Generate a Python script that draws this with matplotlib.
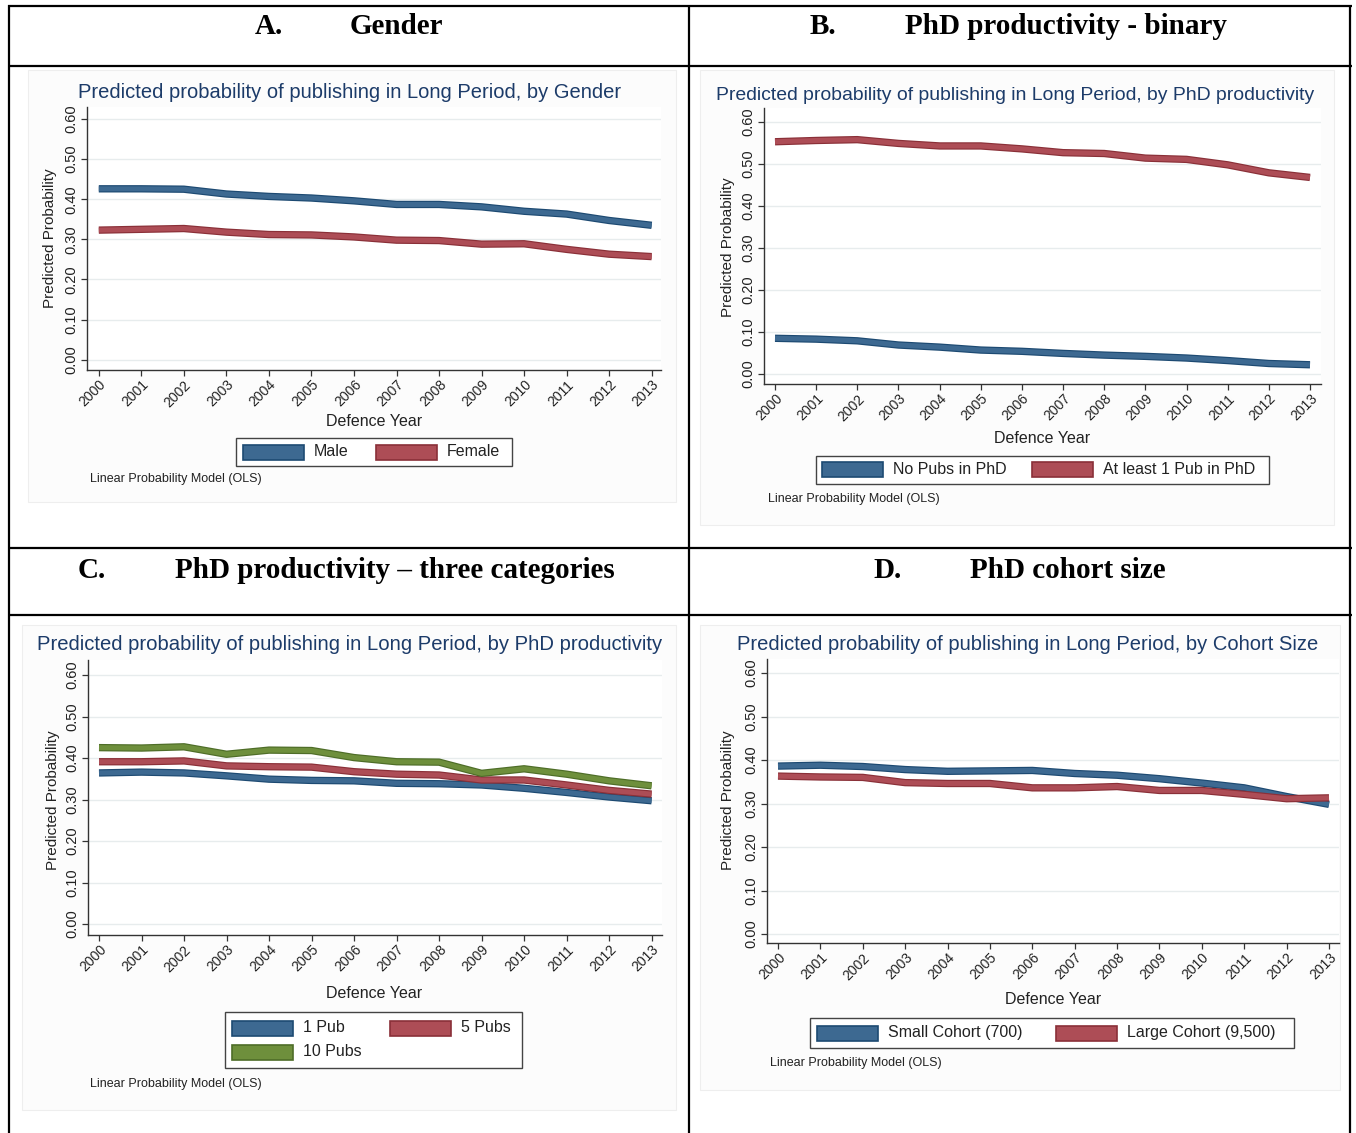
import matplotlib
matplotlib.use("Agg")
import matplotlib.pyplot as plt
import matplotlib.patheffects as pe
from matplotlib.patches import Rectangle
from matplotlib.lines import Line2D

W, H, DPI = 1356, 1133, 100

# ---- data -------------------------------------------------------------
years = list(range(2000, 2014))
year_labels = [str(y) for y in years]
ytick_vals = [0.0, 0.1, 0.2, 0.3, 0.4, 0.5, 0.6]
ytick_labels = ["0.00", "0.10", "0.20", "0.30", "0.40", "0.50", "0.60"]

# A. Gender
male = [0.426, 0.426, 0.425, 0.413, 0.407, 0.403, 0.396, 0.387, 0.387, 0.381, 0.370, 0.363, 0.347, 0.335]
female = [0.323, 0.325, 0.327, 0.318, 0.312, 0.311, 0.306, 0.298, 0.297, 0.288, 0.289, 0.275, 0.263, 0.257]

# B. PhD productivity - binary
no_pubs = [0.085, 0.083, 0.079, 0.069, 0.064, 0.057, 0.054, 0.049, 0.045, 0.042, 0.038, 0.032, 0.025, 0.022]
at_least_one = [0.553, 0.556, 0.558, 0.549, 0.543, 0.543, 0.536, 0.527, 0.525, 0.514, 0.511, 0.498, 0.479, 0.468]

# C. PhD productivity - three categories
pub1 = [0.364, 0.366, 0.364, 0.357, 0.349, 0.346, 0.345, 0.339, 0.338, 0.335, 0.327, 0.317, 0.306, 0.297]
pubs5 = [0.391, 0.391, 0.393, 0.381, 0.379, 0.378, 0.367, 0.361, 0.359, 0.347, 0.347, 0.335, 0.322, 0.313]
pubs10 = [0.425, 0.424, 0.427, 0.409, 0.419, 0.418, 0.401, 0.391, 0.390, 0.363, 0.374, 0.361, 0.345, 0.333]

# D. PhD cohort size
small_cohort = [0.386, 0.388, 0.385, 0.378, 0.374, 0.375, 0.376, 0.369, 0.365, 0.357, 0.347, 0.336, 0.316, 0.298]
large_cohort = [0.363, 0.361, 0.360, 0.348, 0.346, 0.346, 0.336, 0.336, 0.339, 0.330, 0.330, 0.321, 0.311, 0.313]

# ---- style ------------------------------------------------------------
BLUE = ("#3d6991", "#1d4a72")
RED = ("#ad4d56", "#8a3038")
GREEN = ("#6e8f3c", "#4e6d28")
TITLE_COLOR = "#1c3b69"
TEXT = "#222222"
SANS = "Liberation Sans"
SERIF = "Liberation Serif"

fig = plt.figure(figsize=(W / DPI, H / DPI), dpi=DPI)
fig.patch.set_facecolor("white")


def fx(x):
    return x / W


def fy(y):
    return 1 - y / H


def hline(y, x0, x1, lw=1.6):
    fig.add_artist(Line2D([fx(x0), fx(x1)], [fy(y), fy(y)], transform=fig.transFigure,
                          color="black", lw=lw, solid_capstyle="butt"))


def vline(x, y0, y1, lw=1.6):
    fig.add_artist(Line2D([fx(x), fx(x)], [fy(y0), fy(y1)], transform=fig.transFigure,
                          color="black", lw=lw, solid_capstyle="butt"))


def panel(p, title, series, legend_entries):
    # faint graph-region background
    bx0, by0, bx1, by1 = p["region"]
    fig.add_artist(Rectangle((fx(bx0), fy(by1)), (bx1 - bx0) / W, (by1 - by0) / H,
                             transform=fig.transFigure, facecolor="#fcfcfc",
                             edgecolor="#eeeeee", lw=0.8, zorder=0))

    left, right, top, bottom = p["axis"]
    y0, y6, x0, x13 = p["ticks"]
    ax = fig.add_axes([fx(left), fy(bottom), (right - left) / W, (bottom - top) / H])
    ax.set_facecolor("white")
    ppu_y = (y0 - y6) / 0.6
    ax.set_ylim(-(bottom - y0) / ppu_y, 0.6 + (y6 - top) / ppu_y)
    ppu_x = (x13 - x0) / 13
    ax.set_xlim(2000 - (x0 - left) / ppu_x, 2013 + (right - x13) / ppu_x)

    for s in ("top", "right"):
        ax.spines[s].set_visible(False)
    for s in ("left", "bottom"):
        ax.spines[s].set_color("#333333")
        ax.spines[s].set_linewidth(1.0)

    ax.set_yticks(ytick_vals)
    ax.set_yticklabels(ytick_labels, rotation=90, va="center", family=SANS,
                       fontsize=10.5, color=TEXT)
    ax.set_xticks(years)
    ax.set_xticklabels(year_labels, rotation=45, ha="right", va="top",
                       rotation_mode="anchor", family=SANS, fontsize=10, color=TEXT)
    ax.tick_params(axis="both", length=4, width=0.9, color="#333333")
    ax.tick_params(axis="y", pad=2.5)
    ax.tick_params(axis="x", pad=1.5)
    ax.grid(axis="y", color="#e7eced", lw=1.0)
    ax.set_axisbelow(True)

    for vals, (fill, edge) in series:
        ax.plot(years, vals, color=fill, lw=3.6, solid_joinstyle="round",
                solid_capstyle="butt",
                path_effects=[pe.Stroke(linewidth=5.3, foreground=edge), pe.Normal()])

    tx, ty, tsize = p["title"]
    fig.text(fx(tx), fy(ty), title, ha="left", va="center", family=SANS,
             fontsize=tsize, color=TITLE_COLOR)
    lx, ly = p["ylabel"]
    fig.text(fx(lx), fy(ly), "Predicted Probability", rotation=90, ha="center",
             va="center", family=SANS, fontsize=11, color=TEXT)
    xx, xy = p["xlabel"]
    fig.text(fx(xx), fy(xy), "Defence Year", ha="center", va="center", family=SANS,
             fontsize=11.5, color=TEXT)

    # legend box
    lx0, ly0, lx1, ly1 = p["legend"]
    fig.add_artist(Rectangle((fx(lx0), fy(ly1)), (lx1 - lx0) / W, (ly1 - ly0) / H,
                             transform=fig.transFigure, facecolor="white",
                             edgecolor="#444444", lw=1.0, zorder=3))
    for (px, py, label), (fill, edge) in legend_entries:
        fig.add_artist(Rectangle((fx(px), fy(py + 7.5)), 61 / W, 15 / H,
                                 transform=fig.transFigure, facecolor=fill,
                                 edgecolor=edge, lw=1.2, zorder=4))
        fig.text(fx(px + 71), fy(py), label, ha="left", va="center", family=SANS,
                 fontsize=11.5, color=TEXT, zorder=5)

    nx, ny = p["note"]
    fig.text(fx(nx), fy(ny), "Linear Probability Model (OLS)", ha="left", va="center",
             family=SANS, fontsize=9, color=TEXT)
    return ax


# ---- panel A -------------------------------------------------------------
pA = dict(region=(28, 70, 676, 502), axis=(87, 661, 107, 370),
          ticks=(359.7, 119, 98.8, 651.7), title=(78, 93, 14.5), ylabel=(50, 238),
          xlabel=(374, 421), legend=(236, 438, 512, 466), note=(90, 479))
panel(pA, "Predicted probability of publishing in Long Period, by Gender",
      [(male, BLUE), (female, RED)],
      [((243, 452, "Male"), BLUE), ((376, 452, "Female"), RED)])

# ---- panel B -------------------------------------------------------------
pB = dict(region=(700, 70, 1334, 525), axis=(764, 1321, 108, 384),
          ticks=(374, 122, 775, 1310), title=(716, 95, 13.95), ylabel=(728, 247),
          xlabel=(1042, 438), legend=(816, 456, 1269, 484), note=(768, 499))
panel(pB, "Predicted probability of publishing in Long Period, by PhD productivity",
      [(no_pubs, BLUE), (at_least_one, RED)],
      [((822, 470, "No Pubs in PhD"), BLUE), ((1032, 470, "At least 1 Pub in PhD"), RED)])

# ---- panel C -------------------------------------------------------------
pC = dict(region=(22, 625, 676, 1110), axis=(88, 662, 660, 935),
          ticks=(924, 675, 99, 651.6), title=(37, 645, 14.6), ylabel=(53, 800),
          xlabel=(374, 993), legend=(225, 1012, 522, 1068), note=(90, 1084))
panel(pC, "Predicted probability of publishing in Long Period, by PhD productivity",
      [(pub1, BLUE), (pubs5, RED), (pubs10, GREEN)],
      [((232, 1028, "1 Pub"), BLUE), ((390, 1028, "5 Pubs"), RED),
       ((232, 1052, "10 Pubs"), GREEN)])

# ---- panel D -------------------------------------------------------------
pD = dict(region=(700, 625, 1340, 1090), axis=(767, 1339, 659, 943),
          ticks=(934, 673, 778, 1329), title=(737, 644, 14.5), ylabel=(728, 800),
          xlabel=(1053, 1000), legend=(810, 1018, 1294, 1048), note=(770, 1063))
panel(pD, "Predicted probability of publishing in Long Period, by Cohort Size",
      [(small_cohort, BLUE), (large_cohort, RED)],
      [((817, 1033, "Small Cohort (700)"), BLUE), ((1056, 1033, "Large Cohort (9,500)"), RED)])

# ---- table frame and headers -----------------------------------------------
for y in (6, 66, 548, 615):
    hline(y, 8, 1352)
for x in (9, 689, 1350):
    vline(x, 5, 1133)

hdr = dict(family=SERIF, weight="bold", fontsize=21, color="black", va="center", ha="left")
fig.text(fx(255), fy(26), "A.", **hdr)
fig.text(fx(350), fy(26), "Gender", **hdr)
fig.text(fx(810), fy(26), "B.", **hdr)
fig.text(fx(905), fy(26), "PhD productivity - binary", **hdr)
fig.text(fx(78), fy(570), "C.", **hdr)
fig.text(fx(175), fy(570), "PhD productivity \u2013 three categories", **hdr)
fig.text(fx(873), fy(570), "D.", **hdr)
fig.text(fx(970), fy(570), "PhD cohort size", **hdr)

fig.savefig("out.png", dpi=DPI)
